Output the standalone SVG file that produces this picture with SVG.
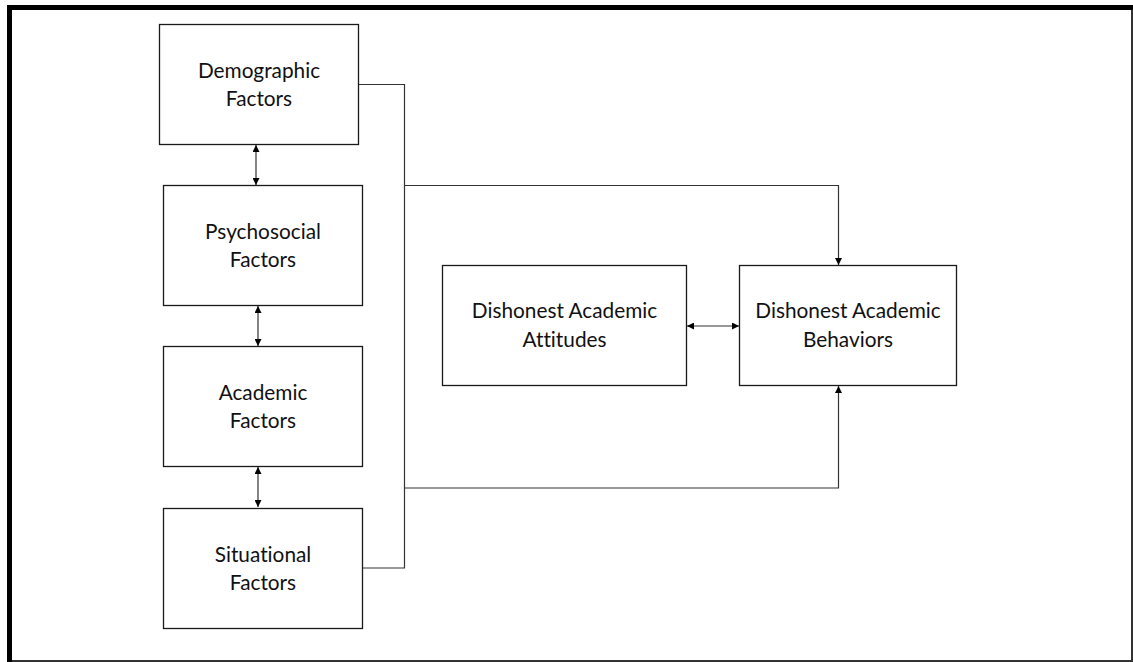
<svg xmlns="http://www.w3.org/2000/svg" width="1133" height="662" viewBox="0 0 1133 662">
  <style>
    .box { fill: #ffffff; stroke: #1a1a1a; stroke-width: 1.3; }
    .lbl { font-family: Lato, "Open Sans", "Liberation Sans", sans-serif; font-size: 20.8px; fill: #111111; text-anchor: middle; font-variant-ligatures: none; }
    .wire { fill: none; stroke: #333333; stroke-width: 1.2; }
  </style>
  <defs>
    <marker id="head" viewBox="0 0 10 10" refX="10" refY="5" markerWidth="7" markerHeight="7" markerUnits="userSpaceOnUse" orient="auto-start-reverse">
      <path d="M0,0 L10,5 L0,10 Z" fill="#000000"/>
    </marker>
  </defs>

  <rect x="0" y="0" width="1133" height="662" fill="#ffffff"/>

  <!-- outer frame -->
  <g id="frame">
    <path d="M9.5,662 L9.5,7.5 L1133,7.5" fill="none" stroke="#000000" stroke-width="5"/>
    <path d="M1132,10 L1132,661 L12,661" fill="none" stroke="#333333" stroke-width="2"/>
  </g>

  <!-- connectors -->
  <g id="connectors">
    <line class="wire" x1="256" y1="145" x2="256" y2="185" marker-start="url(#head)" marker-end="url(#head)"/>
    <line class="wire" x1="258" y1="306" x2="258" y2="346" marker-start="url(#head)" marker-end="url(#head)"/>
    <line class="wire" x1="258" y1="467" x2="258" y2="507" marker-start="url(#head)" marker-end="url(#head)"/>
    <polyline class="wire" points="358,84.5 404.5,84.5 404.5,568 362,568"/>
    <polyline class="wire" points="404.5,185.5 838.5,185.5 838.5,265" marker-end="url(#head)"/>
    <polyline class="wire" points="404.5,488 838.5,488 838.5,386" marker-end="url(#head)"/>
    <line class="wire" x1="687" y1="326" x2="739" y2="326" marker-start="url(#head)" marker-end="url(#head)"/>
  </g>

  <g id="demographic">
    <rect class="box" x="159.5" y="24.5" width="199" height="120"/>
    <text class="lbl" x="259" y="78">Demographic</text>
    <text class="lbl" x="259" y="106">Factors</text>
  </g>

  <g id="psychosocial">
    <rect class="box" x="163.5" y="185.5" width="199" height="120"/>
    <text class="lbl" x="263" y="239">Psychosocial</text>
    <text class="lbl" x="263" y="267">Factors</text>
  </g>

  <g id="academic">
    <rect class="box" x="163.5" y="346.5" width="199" height="120"/>
    <text class="lbl" x="263" y="400">Academic</text>
    <text class="lbl" x="263" y="428">Factors</text>
  </g>

  <g id="situational">
    <rect class="box" x="163.5" y="508.5" width="199" height="120"/>
    <text class="lbl" x="263" y="562">Situational</text>
    <text class="lbl" x="263" y="590">Factors</text>
  </g>

  <g id="attitudes">
    <rect class="box" x="442.5" y="265.5" width="244" height="120"/>
    <text class="lbl" x="564.5" y="318">Dishonest Academic</text>
    <text class="lbl" x="564.5" y="347">Attitudes</text>
  </g>

  <g id="behaviors">
    <rect class="box" x="739.5" y="265.5" width="217" height="120"/>
    <text class="lbl" x="848" y="318">Dishonest Academic</text>
    <text class="lbl" x="848" y="347">Behaviors</text>
  </g>
</svg>
